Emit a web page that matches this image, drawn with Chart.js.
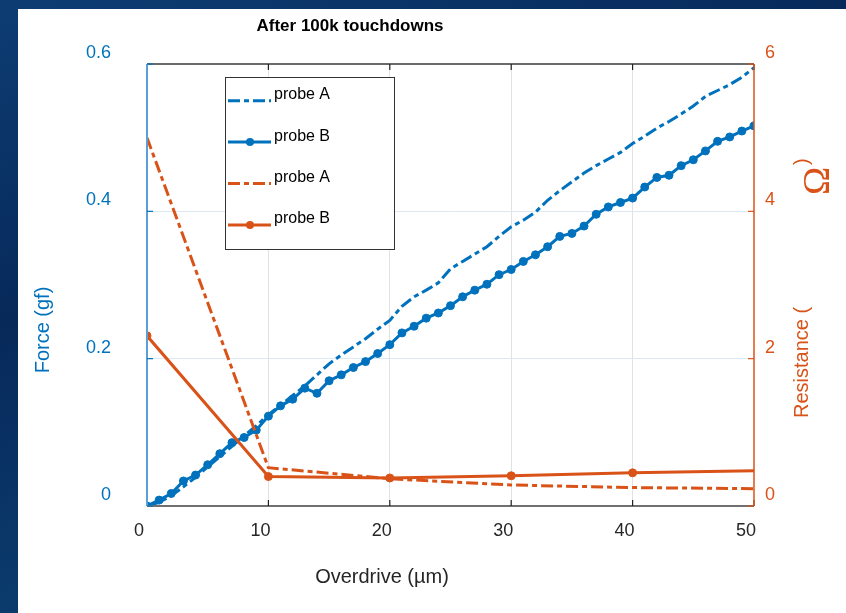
<!DOCTYPE html>
<html><head><meta charset="utf-8">
<script src="https://cdn.jsdelivr.net/npm/chart.js@4.4.1/dist/chart.umd.min.js"></script>
<style>
html,body{margin:0;padding:0;width:846px;height:613px;overflow:hidden;
background:linear-gradient(160deg,#0d3d73 0%,#07295a 35%,#0b3a6c 65%,#08305e 100%);}
#panel{position:absolute;left:18px;top:9px;right:0;bottom:0;background:#fff;}
#c{position:absolute;left:0;top:0;}
</style></head><body>
<div id="panel"></div>
<canvas id="c" width="846" height="613"></canvas>
<script>
// ---- data ----
const overdrive = [0,1,2,3,4,5,6,7,8,9,10,11,12,13,14,15,16,17,18,19,20,21,22,23,24,25,26,27,28,29,30,31,32,33,34,35,36,37,38,39,40,41,42,43,44,45,46,47,48,49,50];
const forceProbeA = [0,0.005,0.014,0.026,0.039,0.053,0.067,0.081,0.095,0.109,0.124,0.137,0.150,0.163,0.178,0.193,0.205,0.216,0.227,0.240,0.252,0.271,0.284,0.293,0.303,0.322,0.332,0.342,0.352,0.366,0.379,0.388,0.399,0.415,0.428,0.440,0.452,0.462,0.471,0.480,0.492,0.502,0.513,0.522,0.532,0.543,0.556,0.564,0.572,0.582,0.595];
const forceProbeB = [0,0.008,0.017,0.034,0.042,0.056,0.071,0.086,0.093,0.103,0.122,0.136,0.145,0.160,0.153,0.170,0.178,0.188,0.196,0.207,0.219,0.235,0.244,0.255,0.262,0.272,0.284,0.293,0.301,0.314,0.321,0.332,0.341,0.352,0.366,0.370,0.380,0.396,0.406,0.412,0.418,0.433,0.446,0.449,0.462,0.470,0.482,0.495,0.501,0.509,0.516];
const resistanceOverdrive = [0,10,20,30,40,50];
const resistanceProbeA = [5.0,0.52,0.37,0.285,0.25,0.235];
const resistanceProbeB = [2.31,0.40,0.38,0.41,0.45,0.48];
const xTicks = [0,10,20,30,40,50];
const forceTicks = [0,0.2,0.4,0.6];
const resistanceTicks = [0,2,4,6];
const seriesNames = ['probe A','probe B','probe A','probe B'];
const chartTitle = 'After 100k touchdowns';
const xTitle = 'Overdrive (\u00b5m)';
const yLeftTitle = 'Force (gf)';
const yRightTitle = 'Resistance (';
const yRightUnit = '\u03a9';

// ---- styles ----
const BLUE = '#0072BD', ORANGE = '#D95319';
const FONT = "'Liberation Sans', Arial, Helvetica, sans-serif";
const dashDot = [12,4,5,4];
const pts = (xs, ys) => xs.map((x, i) => ({x: x, y: ys[i]}));

const overlay = {
  id: 'overlay',
  afterDatasetsDraw(chart) {
    const ctx = chart.ctx, a = chart.chartArea;
    const sx = chart.scales.x, sl = chart.scales.yL, sr = chart.scales.yR;
    ctx.save();
    ctx.setLineDash([]);
    ctx.strokeStyle = '#3a3a3a'; ctx.lineWidth = 1.5;
    ctx.beginPath(); ctx.moveTo(a.left, a.top); ctx.lineTo(a.right, a.top); ctx.stroke();
    ctx.strokeStyle = '#707070'; ctx.lineWidth = 2;
    ctx.beginPath(); ctx.moveTo(a.left, a.bottom); ctx.lineTo(a.right, a.bottom); ctx.stroke();
    ctx.strokeStyle = '#222'; ctx.lineWidth = 1.2;
    xTicks.forEach(v => {
      const px = sx.getPixelForValue(v);
      ctx.beginPath(); ctx.moveTo(px, a.bottom); ctx.lineTo(px, a.bottom - 6);
      ctx.moveTo(px, a.top); ctx.lineTo(px, a.top + 6); ctx.stroke();
    });
    ctx.strokeStyle = '#5a9fd8'; ctx.lineWidth = 2;
    ctx.beginPath(); ctx.moveTo(a.left, a.top); ctx.lineTo(a.left, a.bottom); ctx.stroke();
    ctx.strokeStyle = BLUE; ctx.lineWidth = 1.2;
    forceTicks.forEach(v => {
      const py = sl.getPixelForValue(v);
      ctx.beginPath(); ctx.moveTo(a.left, py); ctx.lineTo(a.left + 6, py); ctx.stroke();
    });
    ctx.strokeStyle = ORANGE; ctx.lineWidth = 1.5;
    ctx.beginPath(); ctx.moveTo(a.right, a.top); ctx.lineTo(a.right, a.bottom); ctx.stroke();
    ctx.lineWidth = 1.2;
    resistanceTicks.forEach(v => {
      const py = sr.getPixelForValue(v);
      ctx.beginPath(); ctx.moveTo(a.right, py); ctx.lineTo(a.right - 6, py); ctx.stroke();
    });
    ctx.restore();
  },
  afterDraw(chart) {
    const ctx = chart.ctx;
    ctx.save();
    ctx.fillStyle = '#000'; ctx.font = 'bold 17px ' + FONT;
    ctx.textAlign = 'center'; ctx.textBaseline = 'alphabetic';
    ctx.fillText(chartTitle, 350, 31);
    ctx.fillStyle = '#262626'; ctx.font = '20px ' + FONT;
    ctx.fillText(xTitle, 382, 583);
    ctx.save();
    ctx.translate(49, 330); ctx.rotate(-Math.PI / 2);
    ctx.fillStyle = BLUE; ctx.font = '20px ' + FONT; ctx.textAlign = 'center';
    ctx.fillText(yLeftTitle, 0, 0);
    ctx.restore();
    ctx.save();
    ctx.translate(808, 418); ctx.rotate(-Math.PI / 2);
    ctx.fillStyle = ORANGE; ctx.textAlign = 'left';
    ctx.font = '20px ' + FONT;
    ctx.fillText(yRightTitle, 0, 0);
    ctx.fillText(')', 253, 0);
    ctx.font = '38px "Liberation Serif", "Times New Roman", serif';
    ctx.fillText(yRightUnit, 223, 21);
    ctx.restore();
    const bx = 225.5, by = 77.5, bw = 169, bh = 172;
    ctx.fillStyle = '#fff'; ctx.fillRect(bx, by, bw, bh);
    ctx.strokeStyle = '#333'; ctx.lineWidth = 1; ctx.setLineDash([]);
    ctx.strokeRect(bx, by, bw, bh);
    chart.data.datasets.forEach((ds, i) => {
      const ly = 100.7 + 41.4 * i;
      ctx.save();
      ctx.strokeStyle = ds.borderColor; ctx.lineWidth = 3;
      ctx.setLineDash(ds.borderDash || []);
      ctx.beginPath(); ctx.moveTo(228, ly); ctx.lineTo(271, ly); ctx.stroke();
      ctx.setLineDash([]);
      if (ds.legendMarker) {
        ctx.fillStyle = ds.borderColor;
        ctx.beginPath(); ctx.arc(250, ly, 4, 0, Math.PI * 2); ctx.fill();
      }
      ctx.fillStyle = '#000'; ctx.font = '16px ' + FONT;
      ctx.textAlign = 'left'; ctx.textBaseline = 'alphabetic';
      ctx.fillText(ds.label, 274, ly - 1.5);
      ctx.restore();
    });
    ctx.restore();
  }
};

new Chart(document.getElementById('c'), {
  type: 'line',
  data: {
    datasets: [
      {label: seriesNames[0], data: pts(overdrive, forceProbeA), yAxisID: 'yL', borderColor: BLUE, backgroundColor: BLUE,
       borderWidth: 3, borderDash: dashDot, pointRadius: 0, tension: 0, order: 3, legendMarker: false},
      {label: seriesNames[1], data: pts(overdrive, forceProbeB), yAxisID: 'yL', borderColor: BLUE, backgroundColor: BLUE,
       borderWidth: 3, pointRadius: 4, pointBorderWidth: 1, pointBackgroundColor: BLUE, pointBorderColor: BLUE, tension: 0, order: 2, legendMarker: true},
      {label: seriesNames[2], data: pts(resistanceOverdrive, resistanceProbeA), yAxisID: 'yR', borderColor: ORANGE, backgroundColor: ORANGE,
       borderWidth: 3, borderDash: dashDot, pointRadius: 0, tension: 0, order: 1, legendMarker: false},
      {label: seriesNames[3], data: pts(resistanceOverdrive, resistanceProbeB), yAxisID: 'yR', borderColor: ORANGE, backgroundColor: ORANGE,
       borderWidth: 3, pointRadius: c => (c.dataIndex === resistanceOverdrive.length - 1 ? 0 : 4), pointBorderWidth: 1,
       pointBackgroundColor: ORANGE, pointBorderColor: ORANGE, tension: 0, order: 0, legendMarker: true}
    ]
  },
  options: {
    responsive: false, animation: false, devicePixelRatio: 1,
    layout: {padding: {top: 64, left: 0, right: 0, bottom: 0}},
    plugins: {legend: {display: false}, tooltip: {enabled: false}, title: {display: false}},
    scales: {
      x: {
        type: 'linear', position: 'bottom', min: 0, max: 50,
        afterFit(s) { s.height = 107; },
        afterBuildTicks(s) { s.ticks = xTicks.map(v => ({value: v})); },
        grid: {drawTicks: false, lineWidth: 1,
          color: c => (c.tick && (c.tick.value === 0 || c.tick.value === 50)) ? 'rgba(0,0,0,0)' : '#e2e2e2'},
        border: {display: false},
        ticks: {padding: 14, labelOffset: -8, color: '#262626', font: {family: FONT, size: 18},
          maxRotation: 0, autoSkip: false, callback: v => String(v)}
      },
      yL: {
        type: 'linear', position: 'left', min: 0, max: 0.6,
        afterFit(s) { s.width = 147; },
        afterBuildTicks(s) { s.ticks = forceTicks.map(v => ({value: v})); },
        grid: {drawTicks: false, lineWidth: 1,
          color: c => (c.tick && (c.tick.value === 0 || c.tick.value === 0.6)) ? 'rgba(0,0,0,0)' : '#dce8f3'},
        border: {display: false},
        ticks: {padding: 36, labelOffset: -11, color: BLUE, font: {family: FONT, size: 18}, callback: v => String(v)}
      },
      yR: {
        type: 'linear', position: 'right', min: 0, max: 6,
        afterFit(s) { s.width = 92; },
        afterBuildTicks(s) { s.ticks = resistanceTicks.map(v => ({value: v})); },
        grid: {display: false, drawTicks: false},
        border: {display: false},
        ticks: {padding: 11, labelOffset: -11, color: ORANGE, font: {family: FONT, size: 18}, callback: v => String(v)}
      }
    }
  },
  plugins: [overlay]
});
</script>
</body></html>
